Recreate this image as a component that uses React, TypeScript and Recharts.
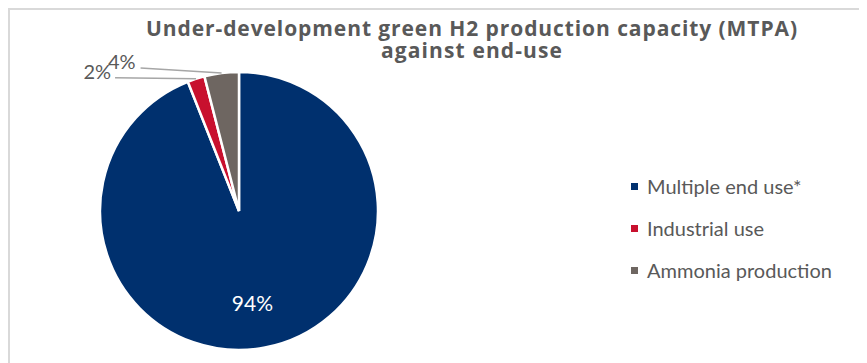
import React from 'react';
import { PieChart, Pie, Cell, Legend } from 'recharts';

const categories = ['Multiple end use*', 'Industrial use', 'Ammonia production'];
const shares = [94, 2, 4];
const colors = ['#00306E', '#C8102E', '#6E6661'];
const titleLines = ['Under-development green H2 production capacity (MTPA)', 'against end-use'];

const data = categories.map((name, i) => ({ name, value: shares[i] }));

const FONT = 'Lato, "Open Sans", sans-serif';
const TITLE_FONT = '"Open Sans", Lato, sans-serif';
const TEXT = '#595959';
const RAD = Math.PI / 180;

const renderLabel = (props: any) => {
  const { cx, cy, midAngle, outerRadius, index, value } = props;
  if (index === 0) {
    const r = outerRadius * 0.67;
    const x = cx + r * Math.cos(-midAngle * RAD) - 4;
    const y = cy + r * Math.sin(-midAngle * RAD);
    return (
      <text x={x} y={y} fill="#fff" textAnchor="middle" dominantBaseline="central" fontSize={21} fontFamily={FONT}>
        {value}%
      </text>
    );
  }
  const x = cx + outerRadius * Math.cos(-midAngle * RAD);
  const y = cy + outerRadius * Math.sin(-midAngle * RAD);
  const ex = x - 81;
  const ey = y - (index === 2 ? 5 : 1);
  return (
    <g>
      <polyline points={`${x},${y} ${ex},${ey}`} stroke="#A6A6A6" strokeWidth={1.5} fill="none" />
      <text x={index === 2 ? ex - 5 : ex - 4} y={ey + 1} fill={TEXT} textAnchor="end" fontSize={20} fontFamily={FONT}>
        {value}%
      </text>
    </g>
  );
};

const LegendContent = () => (
  <div style={{ fontFamily: FONT, color: TEXT }}>
    {data.map((d, i) => (
      <div key={d.name} style={{ display: 'flex', alignItems: 'center', height: 42 }}>
        <span style={{ width: 7, height: 7, background: colors[i], display: 'inline-block', marginRight: 9 }} />
        <span style={{ fontSize: 20, whiteSpace: 'nowrap' }}>{d.name}</span>
      </div>
    ))}
  </div>
);

const titleWidths = [651, 181];

export default function App() {
  return (
    <div style={{ position: 'relative', width: 940, height: 380, border: '2px solid #D9D9D9', background: '#fff' }}>
      <svg
        width={930}
        height={70}
        style={{ position: 'absolute', left: 0, top: 0, zIndex: 2, pointerEvents: 'none' }}
      >
        {titleLines.map((t, i) => (
          <text
            key={t}
            x={461.5}
            y={26 + i * 21.5}
            textAnchor="middle"
            fontFamily={TITLE_FONT}
            fontWeight={700}
            fontSize={21}
            fill={TEXT}
            textLength={titleWidths[i]}
            lengthAdjust="spacing"
          >
            {t}
          </text>
        ))}
      </svg>
      <PieChart width={940} height={380} margin={{ top: 0, right: 0, bottom: 0, left: 0 }}>
        <Pie
          data={data}
          dataKey="value"
          nameKey="name"
          cx={229}
          cy={201}
          outerRadius={139}
          startAngle={90}
          endAngle={-270}
          stroke="#fff"
          strokeWidth={2.5}
          label={renderLabel}
          labelLine={false}
          isAnimationActive={false}
        >
          {data.map((d, i) => (
            <Cell key={d.name} fill={colors[i]} />
          ))}
        </Pie>
        <Legend
          layout="vertical"
          align="right"
          verticalAlign="middle"
          content={<LegendContent />}
          wrapperStyle={{ left: 621, top: 155, width: 280, right: 'auto', bottom: 'auto' }}
        />
      </PieChart>
    </div>
  );
}
